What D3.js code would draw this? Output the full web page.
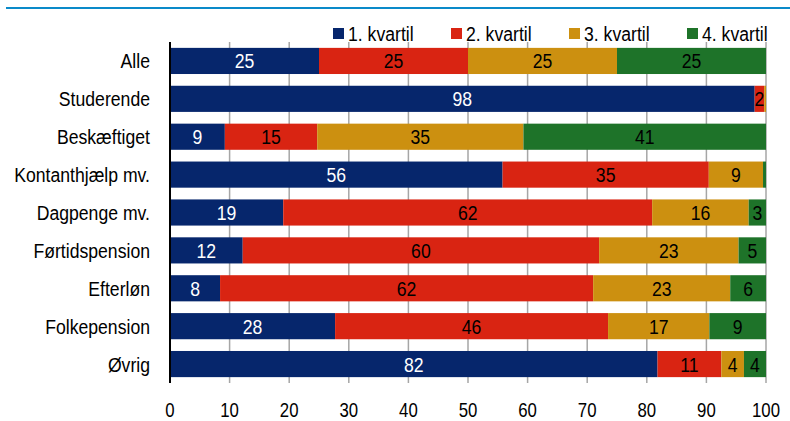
<!DOCTYPE html>
<html><head><meta charset="utf-8">
<script src="https://cdn.jsdelivr.net/npm/d3@7/dist/d3.min.js"></script>
<style>body{margin:0;background:#fff}svg{display:block}text{font-family:"Liberation Sans",Arial,sans-serif}</style>
</head><body><svg id="c" width="790" height="421"></svg>
<script>
const categories = ["Alle","Studerende","Beskæftiget","Kontanthjælp mv.","Dagpenge mv.","Førtidspension","Efterløn","Folkepension","Øvrig"];
const seriesNames = ["1. kvartil","2. kvartil","3. kvartil","4. kvartil"];
const q1 = [25, 98.1, 9.2, 55.8, 19.0, 12.2, 8.4, 27.7, 81.8];
const q2 = [25, 1.6, 15.5, 34.6, 61.9, 59.8, 62.6, 45.8, 10.7];
const q3 = [25, 0.3, 34.6, 9.1, 16.2, 23.4, 23.0, 17.0, 3.8];
const q4 = [25, 0.0, 40.7, 0.5, 2.9, 4.6, 6.0, 9.5, 3.7];
const labelsQ1 = [25, 98, 9, 56, 19, 12, 8, 28, 82];
const labelsQ2 = [25, 2, 15, 35, 62, 60, 62, 46, 11];
const labelsQ3 = [25, null, 35, 9, 16, 23, 23, 17, 4];
const labelsQ4 = [25, null, 41, null, 3, 5, 6, 9, 4];
const xTicks = [0,10,20,30,40,50,60,70,80,90,100];
const colors = ["#06266c","#d92412","#cc9010","#1e7329"];
const textColors = ["#ffffff","#000000","#000000","#000000"];

const SX = 0.84;
const svg = d3.select("#c");
const x = d3.scaleLinear().domain([0,100]).range([170,766]);
const y = d3.scaleBand().domain(categories).range([42,383]).paddingInner(0.31).paddingOuter(0.155);

function place(sel, fx, fy){
  sel.attr("x",0).attr("y",0).attr("transform",(d,i)=>`translate(${fx(d,i)},${fy(d,i)}) scale(${SX},1)`);
}

// top rule
svg.append("line").attr("x1",6).attr("x2",790).attr("y1",8).attr("y2",8)
  .attr("stroke","#0a8ac9").attr("stroke-width",2);

// grid
svg.append("g").selectAll("line").data(xTicks.filter(d=>d>0)).join("line")
  .attr("x1",d=>x(d)).attr("x2",d=>x(d)).attr("y1",42).attr("y2",383)
  .attr("stroke","#a6a6a6").attr("stroke-width",1.5);

const series = [q1,q2,q3,q4];
const labels = [labelsQ1,labelsQ2,labelsQ3,labelsQ4];
const rows = categories.map((c,i)=>{ const o={cat:c}; seriesNames.forEach((s,k)=>o[s]=series[k][i]); return o; });
const stack = d3.stack().keys(seriesNames)(rows);

stack.forEach((layer,k)=>{
  const g = svg.append("g");
  g.selectAll("rect").data(layer).join("rect")
    .attr("x",d=>x(d[0])).attr("width",d=>Math.max(0,x(d[1])-x(d[0])))
    .attr("y",d=>y(d.data.cat)).attr("height",y.bandwidth())
    .attr("fill",colors[k]);
  const t = g.selectAll("text").data(layer.map((d,i)=>({d,l:labels[k][i]})).filter(o=>o.l!==null)).join("text")
    .attr("text-anchor","middle").attr("font-size",21).attr("fill",textColors[k]).text(o=>o.l);
  place(t, o=>(x(o.d[0])+x(o.d[1]))/2, o=>y(o.d.data.cat)+y.bandwidth()/2+7.5);
});

// y axis
svg.append("line").attr("x1",170).attr("x2",170).attr("y1",42).attr("y2",383)
  .attr("stroke","#000").attr("stroke-width",2);
const yl = svg.append("g").selectAll("text").data(categories).join("text")
  .attr("text-anchor","end").attr("font-size",21).attr("fill","#000").text(d=>d);
place(yl, d=>150, d=>y(d)+y.bandwidth()/2+7.5);

// x tick labels
const xl = svg.append("g").selectAll("text").data(xTicks).join("text")
  .attr("text-anchor","middle").attr("font-size",20).attr("fill","#000").text(d=>d);
place(xl, d=>x(d), d=>417);

// legend
const legX = [333,451,569,687];
const leg = svg.append("g").selectAll("g").data(seriesNames).join("g")
  .attr("transform",(d,i)=>`translate(${legX[i]},0)`);
leg.append("rect").attr("x",0).attr("y",28).attr("width",11).attr("height",11).attr("fill",(d,i)=>colors[i]);
const lt = leg.append("text").attr("font-size",21).attr("fill","#000").text(d=>d);
place(lt, d=>15, d=>40.5);
</script></body></html>
